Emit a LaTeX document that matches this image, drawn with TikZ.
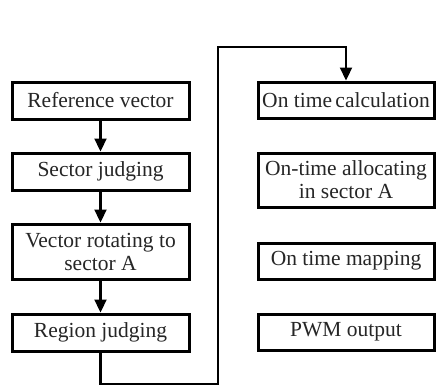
\documentclass[tikz,border=0pt]{standalone}
\usepackage{fontspec}
\setmainfont{Liberation Serif}
\usetikzlibrary{arrows.meta}
\begin{document}
\begin{tikzpicture}[x=1pt,y=-1pt,
  box/.style={draw=black,line width=3pt,fill=white,inner sep=0pt,align=center,
    font=\fontsize{21.5}{23}\selectfont,text=black!85},
  lbox/.style={box,minimum width=177pt},
  rbox/.style={box,minimum width=176pt},
  flow/.style={line width=2.2pt,-{Triangle[length=13pt,width=12pt]}},
  wire/.style={line width=2.2pt}]
\useasboundingbox (0,0) rectangle (438,389);
\fill[white] (0,0) rectangle (438,389);
\node[lbox,minimum height=37pt] (ref) at (100.5,100.5) {Reference vector};
\node[lbox,minimum height=37pt] (sec) at (100.5,171.5) {Sector judging};
\node[lbox,minimum height=55pt] (rot) at (100.5,251.5) {Vector rotating to\\sector A};
\node[lbox,minimum height=37pt] (reg) at (100.5,332.5) {Region judging};
\node[rbox,minimum height=36pt] (calc) at (346,100) {On time\hspace{-2pt} calculation};
\node[rbox,minimum height=54pt] (alloc) at (346,180) {On-time allocating\\in sector A};
\node[rbox,minimum height=36pt] (map) at (346,261) {On time mapping};
\node[rbox,minimum height=36pt] (pwm) at (346,332) {PWM output};
\draw[flow] (ref) -- (sec);
\draw[flow] (sec) -- (rot);
\draw[flow] (rot) -- (reg);
\coordinate (c1) at (100.5,384);
\coordinate (c2) at (218,384);
\coordinate (c3) at (218,47);
\coordinate (c4) at (346,47);
\draw[flow] (reg.south) -- (c1) -- (c2) -- (c3) -- (c4) -- (calc.north);
\end{tikzpicture}
\end{document}
